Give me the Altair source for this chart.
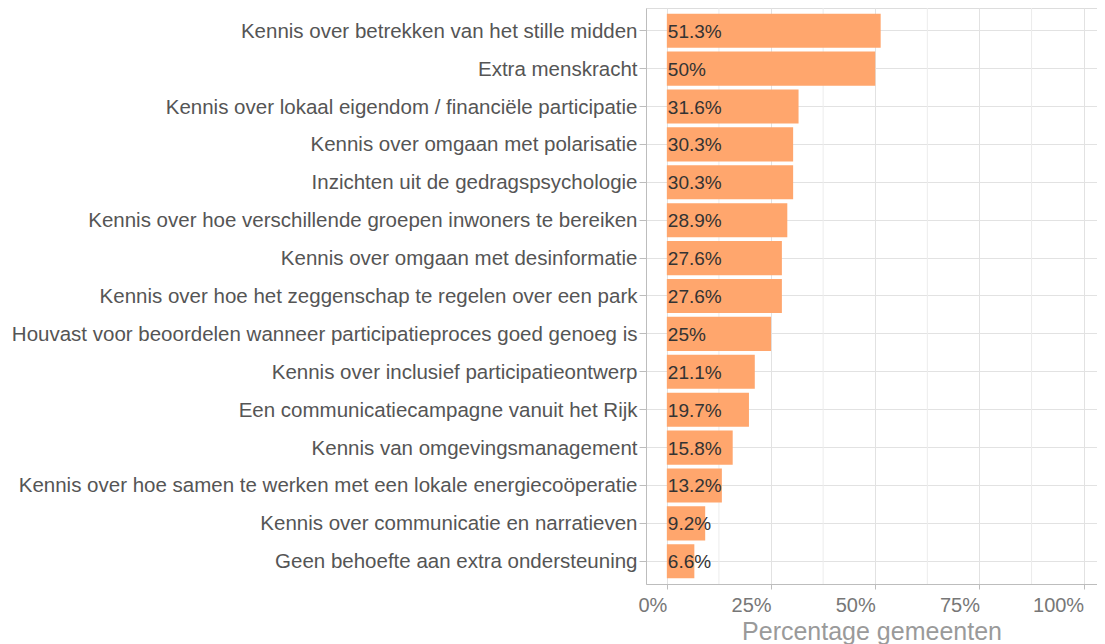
import altair as alt
import pandas as pd

categories = [
    "Kennis over betrekken van het stille midden",
    "Extra menskracht",
    "Kennis over lokaal eigendom / financiële participatie",
    "Kennis over omgaan met polarisatie",
    "Inzichten uit de gedragspsychologie",
    "Kennis over hoe verschillende groepen inwoners te bereiken",
    "Kennis over omgaan met desinformatie",
    "Kennis over hoe het zeggenschap te regelen over een park",
    "Houvast voor beoordelen wanneer participatieproces goed genoeg is",
    "Kennis over inclusief participatieontwerp",
    "Een communicatiecampagne vanuit het Rijk",
    "Kennis van omgevingsmanagement",
    "Kennis over hoe samen te werken met een lokale energiecoöperatie",
    "Kennis over communicatie en narratieven",
    "Geen behoefte aan extra ondersteuning",
]
values = [51.3, 50, 31.6, 30.3, 30.3, 28.9, 27.6, 27.6, 25, 21.1, 19.7, 15.8, 13.2, 9.2, 6.6]
value_labels = ["51.3%", "50%", "31.6%", "30.3%", "30.3%", "28.9%", "27.6%", "27.6%",
                "25%", "21.1%", "19.7%", "15.8%", "13.2%", "9.2%", "6.6%"]
major_breaks = [0, 25, 50, 75, 100]
minor_breaks = [12.5, 37.5, 62.5, 87.5]

df = pd.DataFrame({"category": categories, "value": values, "label": value_labels})
minor_df = pd.DataFrame({"m": minor_breaks})

FONT = "Liberation Sans"

x_scale = alt.Scale(domain=[-5, 103.2], nice=False, zero=False)
y_enc = alt.Y(
    "category:N",
    sort=categories,
    scale=alt.Scale(paddingInner=0.1, paddingOuter=0.15),
    axis=alt.Axis(
        title=None,
        labelFontSize=20.5,
        labelColor="#555555",
        labelFont=FONT,
        labelLimit=0,
        labelPadding=2,
        labelOffset=1,
        tickColor="#bdbdbd",
        tickSize=7,
        domainColor="#bdbdbd",
        grid=True,
        gridColor="#e2e2e2",
        bandPosition=0.5,
    ),
)
x_axis = alt.Axis(
    values=major_breaks,
    labelExpr="datum.value + '%'",
    labelAlign="right",
    labelOffset=0,
    title="Percentage gemeenten",
    titleFontSize=25,
    titleFontWeight="normal",
    titleColor="#9a9a9a",
    titleFont=FONT,
    titlePadding=4,
    labelFontSize=20,
    labelColor="#777777",
    labelFont=FONT,
    labelPadding=6,
    tickColor="#bdbdbd",
    tickSize=5,
    domainColor="#bdbdbd",
    grid=True,
    gridColor="#e2e2e2",
)

minor = alt.Chart(minor_df).mark_rule(color="#ececec", strokeWidth=1).encode(
    x=alt.X("m:Q", scale=x_scale, axis=x_axis)
)

bars = alt.Chart(df).mark_bar(color="#FFA66D").encode(
    x=alt.X("value:Q", scale=x_scale, axis=x_axis),
    x2=alt.datum(0),
    y=y_enc,
)

text = alt.Chart(df).mark_text(
    align="left", baseline="middle", dx=1, dy=1, fontSize=19, color="#333333", font=FONT
).encode(
    x=alt.datum(0),
    y=alt.Y("category:N", sort=categories),
    text="label:N",
)

chart = (
    alt.layer(minor, bars, text)
    .properties(
        width=451,
        height=576,
        padding={"left": 638, "top": 0, "right": 0, "bottom": 60},
        autosize=alt.AutoSizeParams(type="none"),
    )
    .configure_view(stroke="#c8c8c8", strokeWidth=1)
    .configure(font=FONT, background="white")
)

chart.save("out.html", embed_options={"renderer": "svg", "actions": False})
